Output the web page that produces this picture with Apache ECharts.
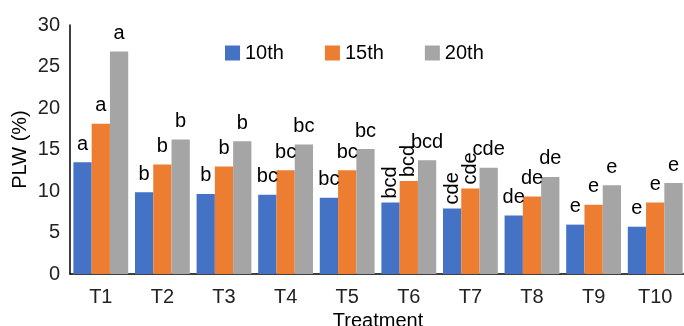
<!DOCTYPE html>
<html><head><meta charset="utf-8">
<script src="https://cdn.jsdelivr.net/npm/echarts@6/dist/echarts.min.js"></script>
<style>html,body{margin:0;padding:0;background:#fff}#c{width:684px;height:326px}</style>
</head><body><div id="c"></div>
<script>
var categories = ['T1','T2','T3','T4','T5','T6','T7','T8','T9','T10'];
var seriesNames = ['10th','15th','20th'];
var v10 = [13.45, 9.85, 9.65, 9.55, 9.2, 8.6, 7.9, 7.05, 5.95, 5.7];
var v15 = [18.1, 13.2, 12.95, 12.5, 12.5, 11.2, 10.3, 9.35, 8.35, 8.6];
var v20 = [26.8, 16.2, 16.0, 15.6, 15.05, 13.7, 12.8, 11.7, 10.7, 10.95];
var l10 = ['a','b','b','bc','bc','bcd','cde','de','e','e'];
var l15 = ['a','b','b','bc','bc','bcd','cde','de','e','e'];
var l20 = ['a','b','b','bc','bc','bcd','cde','de','e','e'];
var rot10 = [0,0,0,0,0,1,1,0,0,0];
var rot15 = [0,0,0,0,0,1,1,0,0,0];
var rot20 = [0,0,0,0,0,0,0,0,0,0];
var yTicks = [0,5,10,15,20,25,30];
var colors = ['#4472C4','#ED7D31','#A5A5A5'];
var FONT = 'Liberation Sans';
var FS = 20;

function mk(vals, labs, rots) {
  return vals.map(function(v, i) {
    var lab = rots[i] ? {
      show: true, position: 'top', rotate: 90, align: 'left', verticalAlign: 'middle',
      distance: 4, formatter: labs[i]
    } : { show: true, position: 'top', distance: 8, formatter: labs[i] };
    return { value: v, label: lab };
  });
}
var vals = [v10, v15, v20], labs = [l10, l15, l20], rots = [rot10, rot15, rot20];
var series = seriesNames.map(function(n, k) {
  return {
    name: n, type: 'bar', barGap: '0%', barCategoryGap: '11%',
    itemStyle: { color: colors[k] },
    label: { color: '#000', fontFamily: FONT, fontSize: FS },
    data: mk(vals[k], labs[k], rots[k])
  };
});
var chart = echarts.init(document.getElementById('c'));
chart.setOption({
  animation: false,
  textStyle: { fontFamily: FONT },
  grid: { left: 70, top: 25, width: 616, bottom: 52, containLabel: false, outerBoundsMode: 'none' },
  legend: {
    data: seriesNames, left: 220, top: 38, itemWidth: 15, itemHeight: 15, itemGap: 41,
    icon: 'rect', textStyle: { fontFamily: FONT, fontSize: FS, color: '#000' }
  },
  xAxis: {
    type: 'category', data: categories,
    name: 'Treatment', nameLocation: 'middle', nameGap: 32,
    nameTextStyle: { fontFamily: FONT, fontSize: FS, color: '#000' },
    axisLine: { lineStyle: { color: '#000', width: 1.5 } },
    axisTick: { show: false },
    axisLabel: { fontFamily: FONT, fontSize: FS, color: '#222', margin: 13 }
  },
  yAxis: {
    type: 'value', min: yTicks[0], max: yTicks[yTicks.length-1], interval: 5,
    name: 'PLW (%)', nameLocation: 'middle', nameGap: 40, nameRotate: 90,
    nameMoveOverlap: false,
    nameTextStyle: { fontFamily: FONT, fontSize: FS, color: '#000' },
    axisLine: { show: true, lineStyle: { color: '#000', width: 1.5 } },
    axisTick: { show: false },
    splitLine: { show: false },
    axisLabel: { fontFamily: FONT, fontSize: FS, color: '#222', margin: 10 }
  },
  series: series
});
</script></body></html>
